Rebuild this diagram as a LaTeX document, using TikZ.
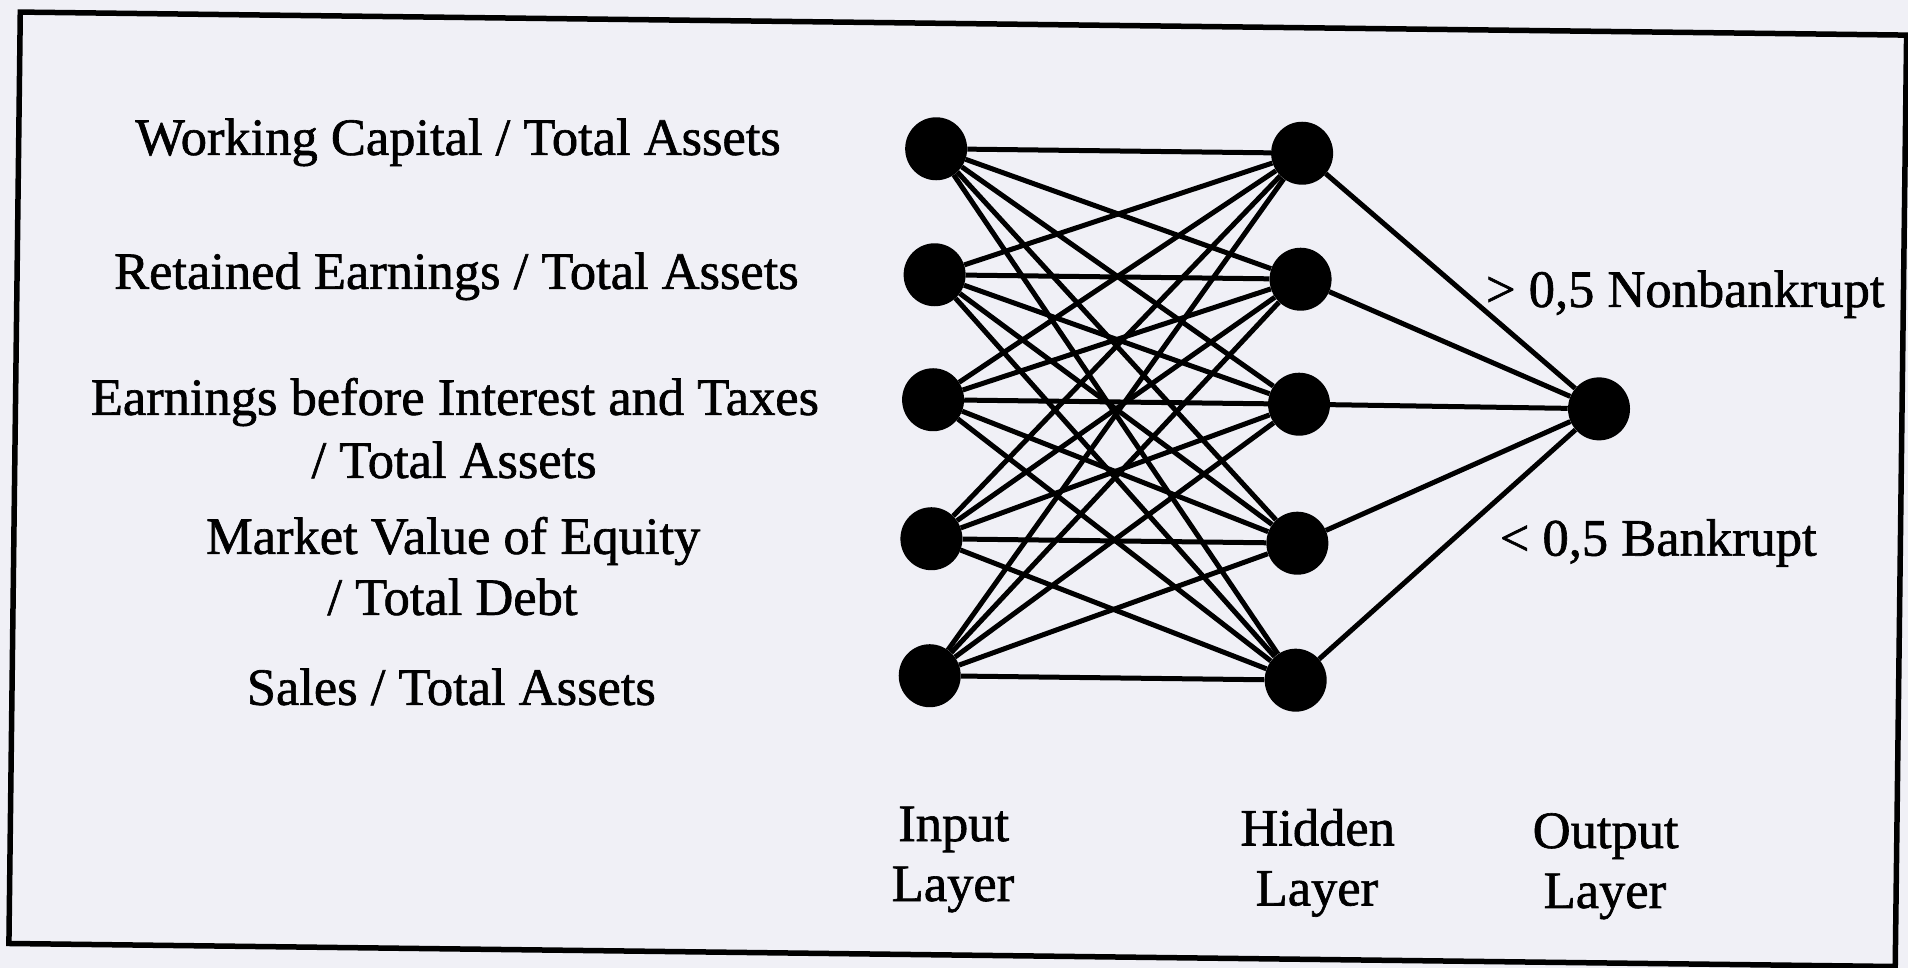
\documentclass[tikz,border=0pt]{standalone}
\usepackage{fontspec}
\setmainfont{Liberation Serif}
\newfontfamily\scanfont{Liberation Serif}[FakeBold=1.2]
\usetikzlibrary{shapes.geometric}
\definecolor{paper}{RGB}{240,240,246}
\begin{document}
\begin{tikzpicture}[x=1pt,y=-1pt,
  neuron/.style={ellipse,fill=black,minimum width=62,minimum height=63,inner sep=0pt},
  link/.style={line width=5pt,black},
  lbl/.style={anchor=base,inner sep=0pt,font=\scanfont\fontsize{52.5}{60}\selectfont},
  frame/.style={line width=5.5pt,black}]
\fill[paper] (0,0) rectangle (1908,968);
\useasboundingbox (0,0) rectangle (1908,968);
\begin{scope}[rotate around={-0.7:(954,489)}]
\draw[frame] (14.5,23.5) rectangle (1901,955);
\foreach \n/\y in {1/149,2/275,3/400,4/539,5/676}{
  \node[neuron] (i\n) at (932,\y) {};
  \node[neuron] (h\n) at (1298,\y) {};
}
\node[neuron] (o) at (1598,401) {};
\foreach \a in {1,...,5}{
  \foreach \b in {1,...,5}{\draw[link] (i\a) -- (h\b);}
  \draw[link] (h\a) -- (o);
}
\node[lbl] (t1) at (454,161) {Working Capital / Total Assets};
\node[lbl] (t2) at (454,295) {Retained Earnings / Total Assets};
\node[lbl] (t3a) at (454,421) {Earnings before Interest and Taxes};
\node[lbl] (t3b) at (454,484) {/ Total Assets};
\node[lbl] (t4a) at (454,560) {Market Value of Equity};
\node[lbl] (t4b) at (454,621) {/ Total Debt};
\node[lbl] (t5) at (454,711) {Sales / Total Assets};
\node[lbl] (nb) at (1683,298) {> 0,5 Nonbankrupt};
\node[lbl] (bk) at (1659,547) {< 0,5 Bankrupt};
\node[lbl] (in1) at (958,841) {Input};
\node[lbl] (in2) at (958,901) {Layer};
\node[lbl] (hd1) at (1322,841) {Hidden};
\node[lbl] (hd2) at (1322,901) {Layer};
\node[lbl] (ou1) at (1610,840) {Output};
\node[lbl] (ou2) at (1610,900) {Layer};
\end{scope}
\end{tikzpicture}
\end{document}
